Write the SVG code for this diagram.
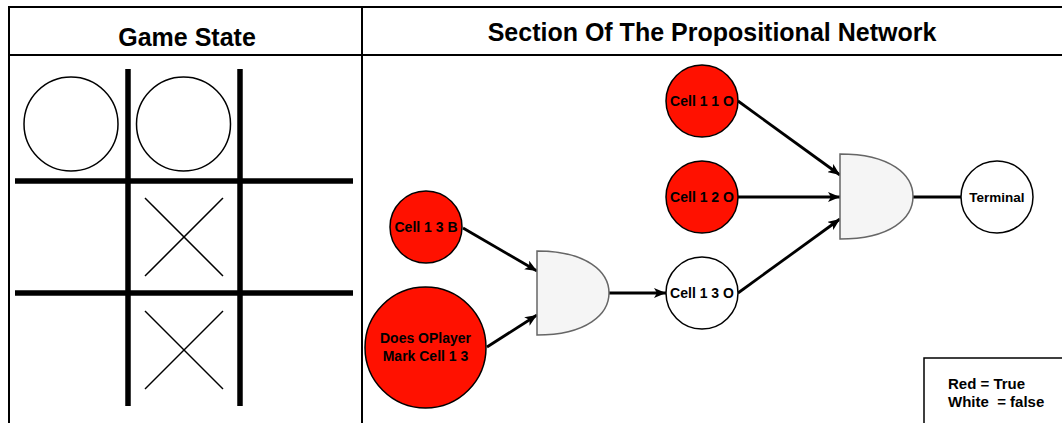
<svg xmlns="http://www.w3.org/2000/svg" width="1062" height="423" viewBox="0 0 1062 423">
<style>
.frame{fill:none;stroke:#000;stroke-width:2}
.grid{stroke:#000;stroke-width:5.5;fill:none}
.mark{stroke:#000;stroke-width:1.5;fill:none}
.title{font-family:"Liberation Sans",Arial,sans-serif;font-weight:bold;font-size:25px;fill:#000;text-anchor:middle}
.node{stroke:#000;stroke-width:1.5}
.red{fill:#ff1100}
.white{fill:#fff}
.lbl{font-family:"Liberation Sans",Arial,sans-serif;font-weight:bold;font-size:14px;fill:#000;text-anchor:middle}
.gate{fill:#f5f5f5;stroke:#666;stroke-width:1.5}
.edge{stroke:#000;stroke-width:2.8;fill:none}
.legend{font-family:"Liberation Sans",Arial,sans-serif;font-weight:bold;font-size:15px;fill:#000}
</style>
<defs>
<marker id="arrow" viewBox="0 0 12 10" refX="12" refY="5" markerWidth="12" markerHeight="10" markerUnits="userSpaceOnUse" orient="auto">
<path d="M0,0 L12,5 L0,10 L3,5 Z" fill="#000"/>
</marker>
</defs>
<rect width="1062" height="423" fill="#fff"/>

<g id="game-state-panel">
<rect class="frame" x="9" y="7" width="353" height="430"/>
<line class="frame" x1="9" y1="55" x2="362" y2="55"/>
<text class="title" x="187" y="46">Game State</text>
<line class="grid" x1="128" y1="69" x2="128" y2="406"/>
<line class="grid" x1="240" y1="69" x2="240" y2="406"/>
<line class="grid" x1="15" y1="181" x2="353" y2="181"/>
<line class="grid" x1="15" y1="293" x2="353" y2="293"/>
<circle class="mark" cx="71" cy="124" r="47"/>
<circle class="mark" cx="183.5" cy="124" r="47"/>
<line class="mark" x1="145" y1="198" x2="223" y2="276"/>
<line class="mark" x1="223" y1="198" x2="145" y2="276"/>
<line class="mark" x1="145" y1="311" x2="223" y2="389"/>
<line class="mark" x1="223" y1="311" x2="145" y2="389"/>
</g>

<g id="network-panel">
<rect class="frame" x="362" y="7" width="710" height="430"/>
<line class="frame" x1="362" y1="55" x2="1072" y2="55"/>
<text class="title" x="712" y="41">Section Of The Propositional Network</text>
</g>

<g id="connectors">
<line class="edge" x1="463" y1="228" x2="537" y2="271" marker-end="url(#arrow)"/>
<line class="edge" x1="487" y1="347" x2="537" y2="315" marker-end="url(#arrow)"/>
<line class="edge" x1="609" y1="293" x2="666" y2="293" marker-end="url(#arrow)"/>
<line class="edge" x1="738" y1="101" x2="840" y2="175" marker-end="url(#arrow)"/>
<line class="edge" x1="738" y1="197" x2="840" y2="197" marker-end="url(#arrow)"/>
<line class="edge" x1="738" y1="293" x2="840" y2="219" marker-end="url(#arrow)"/>
<line class="edge" x1="913" y1="197" x2="961" y2="197"/>
</g>

<g id="cell-1-3-b">
<circle class="node red" cx="426" cy="227" r="36"/>
<text class="lbl" x="426" y="232">Cell 1 3 B</text>
</g>
<g id="does-oplayer-mark">
<circle class="node red" cx="425.5" cy="347.5" r="60.5"/>
<text class="lbl" x="425.5" y="343">Does OPlayer</text>
<text class="lbl" x="425.5" y="361">Mark Cell 1 3</text>
</g>
<g id="and-gate-1">
<path class="gate" d="M537,251 C587,251 609,272 609,293 C609,314 587,335 537,335 Z"/>
</g>
<g id="cell-1-1-o">
<circle class="node red" cx="702" cy="101" r="36"/>
<text class="lbl" x="702" y="106">Cell 1 1 O</text>
</g>
<g id="cell-1-2-o">
<circle class="node red" cx="702" cy="197" r="36"/>
<text class="lbl" x="702" y="202">Cell 1 2 O</text>
</g>
<g id="cell-1-3-o">
<circle class="node white" cx="702" cy="293" r="36"/>
<text class="lbl" x="702" y="298">Cell 1 3 O</text>
</g>
<g id="and-gate-2">
<path class="gate" d="M840,154 C891,154 913,175 913,196.5 C913,218 891,239 840,239 Z"/>
</g>
<g id="terminal">
<circle class="node white" cx="997" cy="197" r="36"/>
<text class="lbl" x="997" y="202" style="font-size:13.5px">Terminal</text>
</g>
<g id="legend">
<rect x="924" y="358" width="150" height="80" fill="#fff" stroke="#000" stroke-width="1.5"/>
<text class="legend" x="948" y="389">Red = True</text>
<text class="legend" x="948" y="407" xml:space="preserve">White  = false</text>
</g>
</svg>
